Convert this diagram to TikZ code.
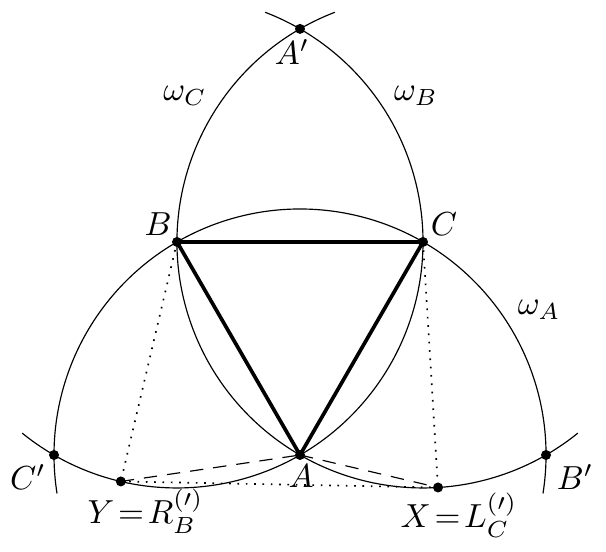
\documentclass[tikz,border=0pt]{standalone}
\usetikzlibrary{calc}
\begin{document}
\begin{tikzpicture}[x=0.3pt,y=0.3pt,
  circ/.style={line width=0.35pt},
  tri/.style={line width=1.1pt},
  dotl/.style={line width=0.5pt,dotted},
  dashl/.style={line width=0.35pt,dash pattern=on 4pt off 3pt},
  pt/.style={circle,fill,inner sep=0pt,minimum size=3pt},
  lab/.style={inner sep=0pt}]
\useasboundingbox (0,0) rectangle (606,552);
\def\s{246}
\coordinate (A) at (300,97);
\coordinate (B) at ($(A)+(120:\s)$);
\coordinate (C) at ($(A)+(60:\s)$);
\coordinate (Ap) at ($(B)+(60:\s)$);
\coordinate (Cp) at ($(B)+(-120:\s)$);
\coordinate (Bp) at ($(C)+(-60:\s)$);
\coordinate (Y) at ($(B)+(-103.2:\s)$);
\coordinate (X) at ($(C)+(-86.5:\s)$);
% circles
\draw[circ] ($(A)+(-9:\s)$) arc[start angle=-9,end angle=189,radius=\s];
\draw[circ] ($(B)+(-129:\s)$) arc[start angle=-129,end angle=69,radius=\s];
\draw[circ] ($(C)+(111:\s)$) arc[start angle=111,end angle=309,radius=\s];
% triangle
\draw[tri,line join=round] (A) -- (B) -- (C) -- cycle;
% dotted and dashed
\draw[dotl] (B) -- (Y);
\draw[dotl] (C) -- (X);
\draw[dotl] (Y) -- (X);
\draw[dashl] (Y) -- (A);
\draw[dashl] (A) -- (X);
% points
\foreach \p in {A,B,C,Ap,Bp,Cp,X,Y} \node[pt] (d\p) at (\p) {};
% labels
\node[lab] (lA) at (301,76) {$A$};
\node[lab] (lB) at (158,328) {$B$};
\node[lab] (lC) at (444,328) {$C$};
\node[lab,anchor=base] (lAp) at (292,487) {$A'$};
\node[lab] (lCp) at (28,75) {$C'$};
\node[lab] (lBp) at (575,75) {$B'$};
\node[lab,anchor=base west] (lY) at (87,28) {$Y\!=\!R_B^{(\prime)}$};
\node[lab,anchor=base west] (lX) at (400,24) {$X\!=\!L_C^{(\prime)}$};
\node[lab] (wC) at (185,456) {$\omega_C$};
\node[lab] (wB) at (416,456) {$\omega_B$};
\node[lab] (wA) at (539,242) {$\omega_A$};
\end{tikzpicture}
\end{document}
